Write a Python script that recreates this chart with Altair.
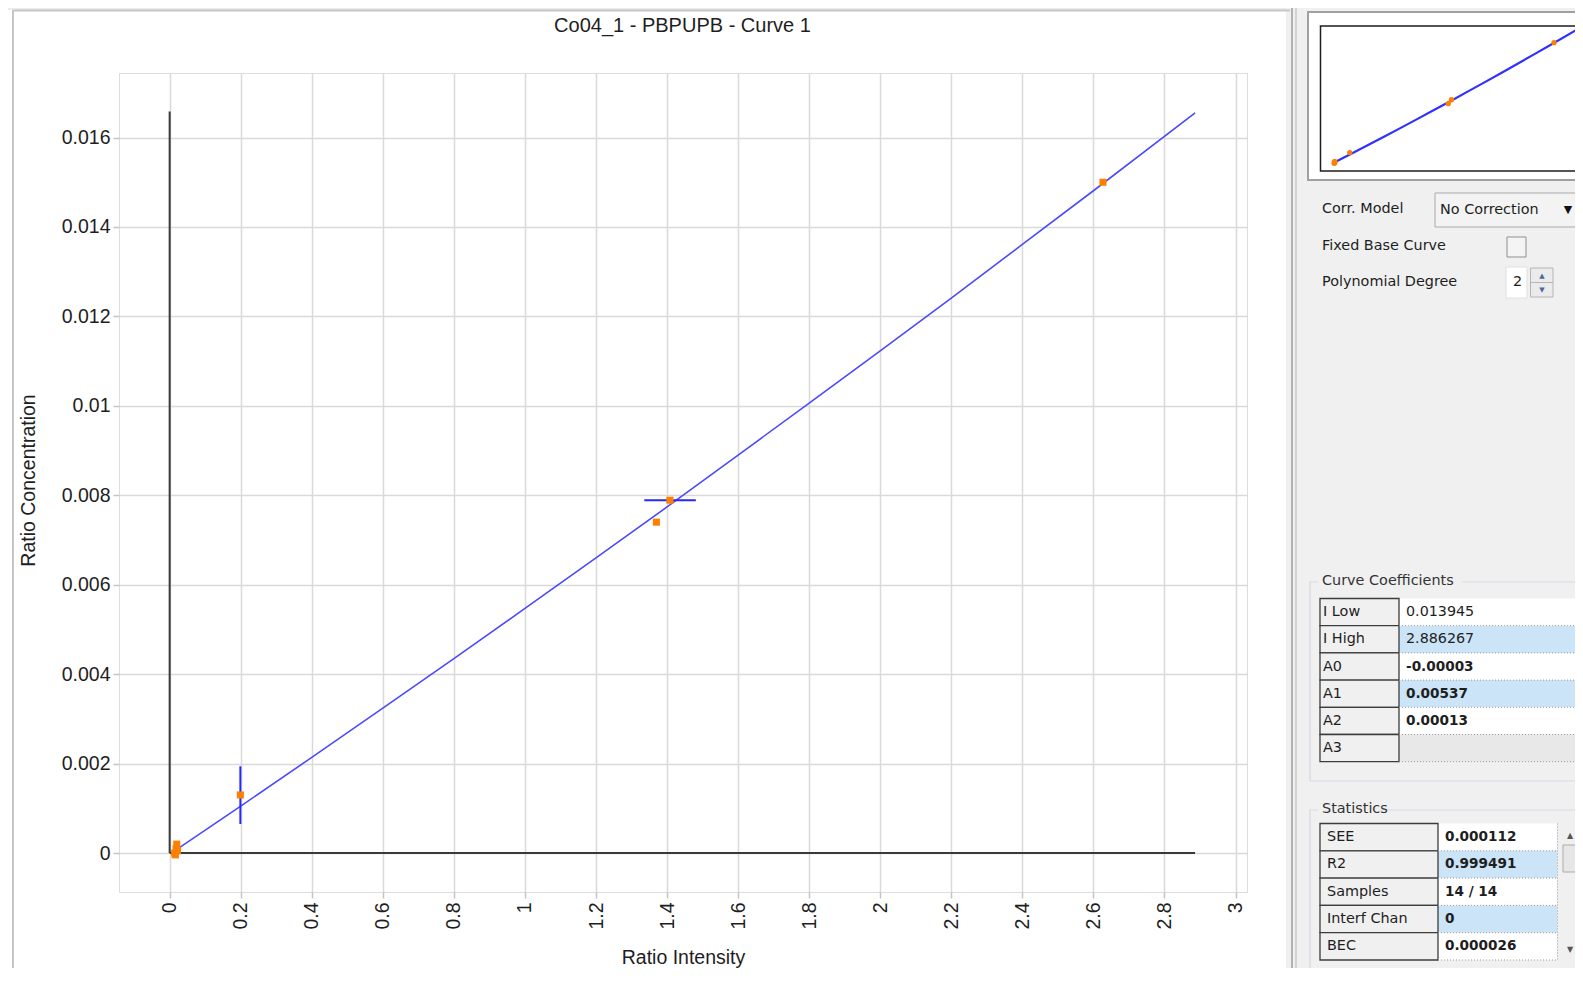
import altair as alt
import pandas as pd

# ---------------- values ----------------
sample_intensity = [0.014, 0.016, 0.018, 0.020, 0.022, 0.199, 1.370, 1.408, 2.627]
sample_concentration = [0.00000, -0.00004, 0.00010, 0.00020, 0.00005, 0.00130, 0.00740, 0.00789, 0.01500]

curve_intensity = [0.013945, 0.2, 0.4, 0.6, 0.8, 1.0, 1.2, 1.4, 1.6, 1.8, 2.0, 2.2, 2.4, 2.6, 2.886267]
curve_concentration = [0.00005, 0.00105, 0.00214, 0.00324, 0.00435, 0.00547, 0.00660, 0.00774,
                       0.00890, 0.01006, 0.01123, 0.01241, 0.01361, 0.01481, 0.01655]

vbar_intensity = [0.199]
vbar_low = [0.00065]
vbar_high = [0.00194]
hbar_concentration = [0.00789]
hbar_low = [1.336]
hbar_high = [1.481]

origin_axis_x_end = 2.886
origin_axis_y_end = 0.01658

x_ticks = [0, 0.2, 0.4, 0.6, 0.8, 1, 1.2, 1.4, 1.6, 1.8, 2, 2.2, 2.4, 2.6, 2.8, 3]
y_ticks = [0, 0.002, 0.004, 0.006, 0.008, 0.01, 0.012, 0.014, 0.016]

chart_title = "Co04_1 - PBPUPB - Curve 1"
x_title = "Ratio Intensity"
y_title = "Ratio Concentration"

coef_labels = ["I Low", "I High", "A0", "A1", "A2", "A3"]
coef_values = ["0.013945", "2.886267", "-0.00003", "0.00537", "0.00013", ""]
coef_bold = [False, False, True, True, True, False]
coef_bg = ["#ffffff", "#cce4f7", "#ffffff", "#cce4f7", "#ffffff", "#e8e8e8"]

stat_labels = ["SEE", "R2", "Samples", "Interf Chan", "BEC"]
stat_values = ["0.000112", "0.999491", "14 / 14", "0", "0.000026"]
stat_bg = ["#ffffff", "#cce4f7", "#ffffff", "#cce4f7", "#ffffff"]

# ---------------- layout ----------------
OX, OY = 119, 73          # plot origin on the page
W, H = 1128, 819
PAD = {"left": OX - 8, "top": OY - 8, "right": 1567 - (OX - 8) - W, "bottom": 76}
FONT = "Liberation Sans"
UIFONT = "DejaVu Sans"
TXT = "#1e1e1e"

def gx(v):
    return v - OX

def gy(v):
    return v - OY

# ---------------- main plot ----------------
x_scale = alt.Scale(domain=[-0.1426, 3.0323], nice=False, zero=False)
y_scale = alt.Scale(domain=[-0.00087, 0.017443], nice=False, zero=False)

x_axis = alt.Axis(orient="bottom", values=x_ticks, format="~g", labelAngle=270, labelAlign="right",
                  labelBaseline="middle", labelFont=FONT, labelFontSize=19.5, labelColor=TXT,
                  labelPadding=4, labelFlush=False, labelOverlap=False, labelBound=False,
                  tickSize=6, tickColor="#c4c4c4", tickWidth=1.5, domain=False,
                  grid=True, gridColor="#d9d9d9", gridWidth=1.5,
                  title=x_title, titleFont=FONT, titleFontSize=19.5, titleFontWeight="normal",
                  titleColor=TXT, titleX=W / 2, titleY=957 - (OY + H), titleBaseline="middle",
                  titleAlign="center")
y_axis = alt.Axis(orient="left", values=y_ticks, format="~g", labelFont=FONT, labelFontSize=19.5,
                  labelColor=TXT, labelPadding=3, labelFlush=False, labelOverlap=False,
                  tickSize=6, tickColor="#c4c4c4", tickWidth=1.5, domain=False,
                  grid=True, gridColor="#d9d9d9", gridWidth=1.5,
                  title=y_title, titleFont=FONT, titleFontSize=19.5, titleFontWeight="normal",
                  titleColor=TXT, titleX=28 - OX, titleY=480 - OY, titleAngle=270,
                  titleBaseline="middle", titleAlign="center")

def mx():
    return alt.X("x:Q", scale=x_scale, axis=x_axis)

def my():
    return alt.Y("y:Q", scale=y_scale, axis=y_axis)

curve_df = pd.DataFrame({"x": curve_intensity, "y": curve_concentration})
pts_df = pd.DataFrame({"x": sample_intensity, "y": sample_concentration})
origin_df = pd.DataFrame({"x": [0, 0], "x2": [0, origin_axis_x_end],
                          "y": [0, 0], "y2": [origin_axis_y_end, 0]})
vbar_df = pd.DataFrame({"x": vbar_intensity, "x2": vbar_intensity, "y": vbar_low, "y2": vbar_high})
hbar_df = pd.DataFrame({"x": hbar_low, "x2": hbar_high, "y": hbar_concentration, "y2": hbar_concentration})

origin_lines = alt.Chart(origin_df).mark_rule(color="#3a3a3a", strokeWidth=2).encode(
    x=mx(), x2="x2:Q", y=my(), y2="y2:Q")
curve = alt.Chart(curve_df).mark_line(color="#4a4aff", strokeWidth=1.6).encode(x=mx(), y=my())
vbar = alt.Chart(vbar_df).mark_rule(color="#2626ff", strokeWidth=2).encode(
    x=mx(), x2="x2:Q", y=my(), y2="y2:Q")
hbar = alt.Chart(hbar_df).mark_rule(color="#2626ff", strokeWidth=2).encode(
    x=mx(), x2="x2:Q", y=my(), y2="y2:Q")
points = alt.Chart(pts_df).mark_square(size=50, color="#ff8000", opacity=1).encode(x=mx(), y=my())

main = alt.layer(origin_lines, curve, vbar, hbar, points)

# ---------------- inset preview (same data, own scales) ----------------
mini_x = alt.Scale(domain=[0, 2.886267], range=[gx(1333), gx(1575.8)], nice=False, zero=False)
mini_y = alt.Scale(domain=[0, 0.01655], range=[gy(163), gy(30.3)], nice=False, zero=False)
mini_curve = alt.Chart(curve_df).mark_line(color="#3030ff", strokeWidth=2.2).encode(
    x=alt.X("x:Q", scale=mini_x, axis=None), y=alt.Y("y:Q", scale=mini_y, axis=None))
mini_pts = alt.Chart(pts_df).mark_circle(size=28, color="#ff8000", opacity=1).encode(
    x=alt.X("x:Q", scale=mini_x, axis=None), y=alt.Y("y:Q", scale=mini_y, axis=None))
mini = alt.layer(mini_curve, mini_pts)

# ---------------- surrounding window chrome ----------------
rects = []
rules = []
dots = []
t_norm = []
t_bold = []
t_sym = []

def R(x, x2, y, y2, fill, stroke="transparent", sw=0):
    rects.append(dict(x=gx(x), x2=gx(x2), y=gy(y), y2=gy(y2), fill=fill, stroke=stroke, sw=sw))

def L(x, x2, y, y2, color, sw, dotted=False):
    (dots if dotted else rules).append(dict(x=gx(x), x2=gx(x2), y=gy(y), y2=gy(y2), color=color, sw=sw))

def T(text, x, y, bold=False, color=TXT, size=14.4):
    (t_bold if bold else t_norm).append(dict(x=gx(x), y=gy(y), text=text, color=color, size=size))

def S(text, x, y, color, size):
    t_sym.append(dict(x=gx(x), y=gy(y), text=text, color=color, size=size))

R(8, 1290, 8, 10, "#ebebeb")
R(1286, 1600, 8, 1000, "#f0f0f0")
R(1308, 1600, 12, 180, "#ffffff", "#a0a0a0", 2)
R(1320.5, 1600, 26, 171, "#ffffff", "#1e1e1e", 1.5)
R(1435, 1600, 193, 227, "#f3f3f3", "#a9a9a9", 1)
R(1507, 1526, 237, 257, "#f4f4f4", "#8f8f8f", 1)
R(1506, 1527, 267, 298, "#ffffff", "#e0e0e0", 1)
R(1530.5, 1553, 268, 297, "#ebebeb", "#b5b5b5", 1)
# group boxes
R(1310, 1600, 582, 781, "transparent", "#d3d9e2", 1.2)
R(1318, 1462, 573, 591, "#f0f0f0")
R(1310, 1600, 810, 978, "transparent", "#d3d9e2", 1.2)
R(1318, 1380, 801, 819, "#f0f0f0")

L(1292, 1292, 8, 1000, "#9c9c9c", 1.5)
L(1296, 1296, 8, 1000, "#b4b4b4", 1)
L(13, 13, 10, 1000, "#c6c6c6", 2)
L(13, 1290, 10.5, 10.5, "#c6c6c6", 2)
L(1530.5, 1553, 282.5, 282.5, "#b5b5b5", 1)

T("Corr. Model", 1322, 209)
T("No Correction", 1440, 210)
S("\u25bc", 1568, 210, "#111111", 11)
T("Fixed Base Curve", 1322, 246)
T("Polynomial Degree", 1322, 282)
T("2", 1513, 282)
S("\u25b2", 1542, 276, "#4a6a9a", 7)
S("\u25bc", 1542, 290, "#4a6a9a", 7)

T("Curve Coefficients", 1322, 581, color="#333333")
top, h = 598.5, 27.2
for i, (lab, val) in enumerate(zip(coef_labels, coef_values)):
    y0 = top + i * h
    R(1399, 1600, y0, y0 + h, coef_bg[i])
    R(1320, 1399, y0, y0 + h, "#f0f0f0", "#3c3c3c", 1.3)
    L(1399, 1600, y0 + h, y0 + h, "#9a9a9a", 1, dotted=True)
    T(lab, 1323, y0 + h / 2)
    if val:
        T(val, 1406, y0 + h / 2, bold=coef_bold[i], size=13.6 if coef_bold[i] else 14.3)

T("Statistics", 1322, 809, color="#333333")
top, h = 823.5, 27.3
R(1558, 1600, top, top + 5 * h, "#f0f0f0")
R(1563, 1583, 845, 872, "#e7e7e7", "#ababab", 1)
S("\u25b2", 1570, 836, "#555555", 8)
S("\u25bc", 1570, 950, "#555555", 8)
for i, (lab, val) in enumerate(zip(stat_labels, stat_values)):
    y0 = top + i * h
    R(1438, 1557, y0, y0 + h, stat_bg[i])
    R(1320, 1438, y0, y0 + h, "#f0f0f0", "#3c3c3c", 1.3)
    L(1438, 1557, y0 + h, y0 + h, "#9a9a9a", 1, dotted=True)
    T(lab, 1327, y0 + h / 2)
    T(val, 1445, y0 + h / 2, bold=True, size=13.6)
L(1557.5, 1557.5, top, top + 5 * h, "#9a9a9a", 1, dotted=True)


def pos(extra2=True):
    enc = dict(x=alt.X("x:Q", scale=None, axis=None), y=alt.Y("y:Q", scale=None, axis=None))
    if extra2:
        enc.update(x2=alt.X2("x2:Q"), y2=alt.Y2("y2:Q"))
    return enc

chrome_rects = alt.Chart(pd.DataFrame(rects)).mark_rect().encode(
    fill=alt.Fill("fill:N", scale=None), stroke=alt.Stroke("stroke:N", scale=None),
    strokeWidth=alt.StrokeWidth("sw:Q", scale=None), **pos())
chrome_rules = alt.Chart(pd.DataFrame(rules)).mark_rule().encode(
    color=alt.Color("color:N", scale=None), strokeWidth=alt.StrokeWidth("sw:Q", scale=None), **pos())
chrome_dots = alt.Chart(pd.DataFrame(dots)).mark_rule(strokeDash=[1, 2]).encode(
    color=alt.Color("color:N", scale=None), strokeWidth=alt.StrokeWidth("sw:Q", scale=None), **pos())

def text_layer(rows, **mk):
    return alt.Chart(pd.DataFrame(rows)).mark_text(baseline="middle", **mk).encode(
        text="text:N", color=alt.Color("color:N", scale=None), size=alt.Size("size:Q", scale=None),
        **pos(False))

txt_norm = text_layer(t_norm, align="left", font=UIFONT)
txt_bold = text_layer(t_bold, align="left", font=UIFONT, fontWeight="bold")
txt_sym = text_layer(t_sym, align="center", font="DejaVu Sans")
title_txt = text_layer([dict(x=gx(682.5), y=gy(25.5), text=chart_title, color=TXT, size=20)],
                       align="center", font=FONT)

chart = alt.layer(
    chrome_rects, chrome_rules, chrome_dots, main, mini, txt_norm, txt_bold, txt_sym, title_txt
).resolve_scale(x="independent", y="independent").properties(
    width=W, height=H, autosize=alt.AutoSizeParams(type="none"), padding=PAD
).configure_view(stroke="#cfcfcf", strokeWidth=2).configure(background="#ffffff", font=FONT)

chart.save("out.html", embed_options={"renderer": "svg", "actions": False})
